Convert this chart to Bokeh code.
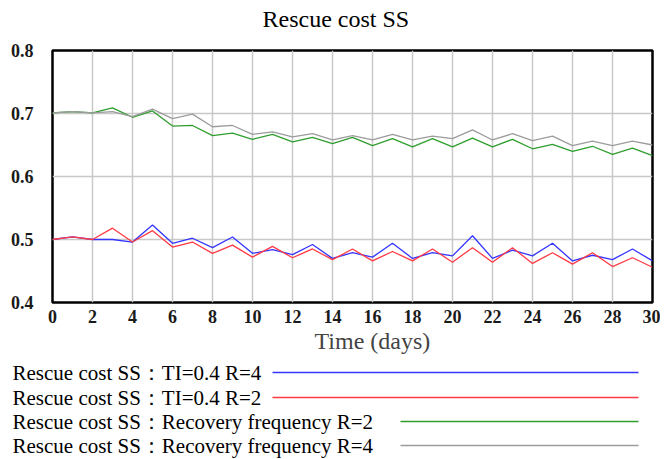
from bokeh.plotting import figure
from bokeh.layouts import column
from bokeh.models import FixedTicker, Title, ColumnDataSource
from bokeh.core.properties import value
from bokeh.embed import file_html
from bokeh.resources import INLINE

days = list(range(31))
ti_r4 = [0.500, 0.504, 0.500, 0.500, 0.496, 0.523, 0.494, 0.502, 0.487, 0.504,
         0.478, 0.484, 0.476, 0.492, 0.470, 0.479, 0.472, 0.494, 0.470, 0.479,
         0.474, 0.506, 0.470, 0.483, 0.474, 0.494, 0.466, 0.475, 0.468, 0.485, 0.466]
ti_r2 = [0.500, 0.504, 0.500, 0.518, 0.496, 0.514, 0.488, 0.496, 0.478, 0.491,
         0.472, 0.489, 0.471, 0.485, 0.468, 0.485, 0.466, 0.481, 0.466, 0.485,
         0.464, 0.487, 0.464, 0.487, 0.462, 0.479, 0.461, 0.479, 0.457, 0.471, 0.456]
rf_r2 = [0.701, 0.703, 0.701, 0.709, 0.694, 0.704, 0.680, 0.681, 0.665, 0.669,
         0.659, 0.667, 0.655, 0.662, 0.652, 0.662, 0.649, 0.660, 0.647, 0.660,
         0.647, 0.661, 0.647, 0.659, 0.644, 0.651, 0.640, 0.648, 0.635, 0.645, 0.633]
rf_r4 = [0.701, 0.703, 0.701, 0.703, 0.695, 0.707, 0.692, 0.699, 0.679, 0.681,
         0.667, 0.671, 0.663, 0.668, 0.658, 0.665, 0.658, 0.667, 0.658, 0.664,
         0.660, 0.674, 0.658, 0.668, 0.657, 0.664, 0.649, 0.656, 0.649, 0.656, 0.650]

chart_title = "Rescue cost SS"
x_label = "Time (days)"
series_labels = ["Rescue cost SS\uff1aTI=0.4 R=4",
                 "Rescue cost SS\uff1aTI=0.4 R=2",
                 "Rescue cost SS\uff1aRecovery frequency R=2",
                 "Rescue cost SS\uff1aRecovery frequency R=4"]
series_values = [ti_r4, ti_r2, rf_r2, rf_r4]
series_colors = ["#3535ff", "#ff3a45", "#2f9e2f", "#9c9c9c"]

x_ticks = list(range(0, 31, 2))
y_ticks = [0.4, 0.5, 0.6, 0.7, 0.8]

SERIF = "'Liberation Serif', 'Times New Roman', serif"
W = 660

# ---- title strip -------------------------------------------------------
TH = 40
tf = figure(width=W, height=TH, x_range=(0, W), y_range=(TH, 0),
            output_backend="svg", toolbar_location=None, min_border=0)
if hasattr(tf, "frame_align"):
    tf.frame_align = False
tf.axis.visible = False
tf.grid.visible = False
tf.outline_line_color = None
tf.text(x=[262], y=[18], text=[chart_title], text_font=value(SERIF),
        text_font_size="24px", text_baseline="middle", text_align="left",
        text_color="black")

# ---- main chart --------------------------------------------------------
p = figure(width=W, height=316, x_range=(0, 30), y_range=(0.4, 0.8),
           output_backend="svg", toolbar_location=None,
           min_border_left=52, min_border_right=8, min_border_top=10,
           min_border_bottom=54)

p.outline_line_color = "black"
p.outline_line_width = 2.5
p.outline_line_alpha = 1.0

for ax in (p.xaxis, p.yaxis):
    ax.axis_line_color = None
    ax.major_tick_line_color = None
    ax.minor_tick_line_color = None
    ax.major_label_text_font = SERIF
    ax.major_label_text_font_size = "18px"
    ax.major_label_text_font_style = "bold"
    ax.major_label_text_color = "#1a1a1a"

p.xaxis.ticker = FixedTicker(ticks=x_ticks)
p.yaxis.ticker = FixedTicker(ticks=y_ticks)
p.xaxis.major_label_standoff = 1
p.yaxis.major_label_standoff = 13

# x-axis title, set off-centre as in the original
p.add_layout(Title(text=x_label, align="left", offset=262,
                   text_font=SERIF, text_font_size="24px",
                   text_font_style="normal", standoff=0), "below")

p.grid.grid_line_color = "#c8c8c8"
p.grid.grid_line_width = 1.5

for vals, col in zip(series_values, series_colors):
    p.line(days, vals, line_color=col, line_width=1.3)

# ---- legend strip: label text followed by a line sample ----------------
LH = 102
lg = figure(width=W, height=LH, x_range=(0, W), y_range=(LH, 0),
            output_backend="svg", toolbar_location=None, min_border=0)
if hasattr(lg, "frame_align"):
    lg.frame_align = False
lg.axis.visible = False
lg.grid.visible = False
lg.outline_line_color = None

leg_y = [16, 41, 65, 89]
leg_x0 = [272, 272, 400, 400]
leg_x1 = [638, 638, 638, 638]
src = ColumnDataSource(dict(y=leg_y, x0=leg_x0, x1=leg_x1, label=series_labels,
                            color=series_colors, tx=[12] * 4))
lg.text(x="tx", y="y", text="label", source=src, text_font=value(SERIF),
        text_font_size="21px", text_baseline="middle", text_align="left",
        text_color="black")
lg.segment(x0="x0", y0="y", x1="x1", y1="y", line_color="color", line_width=1.5,
           source=src)

layout = column(column(tf), p, column(lg), spacing=0)
open("out.html", "w").write(file_html(layout, INLINE))
